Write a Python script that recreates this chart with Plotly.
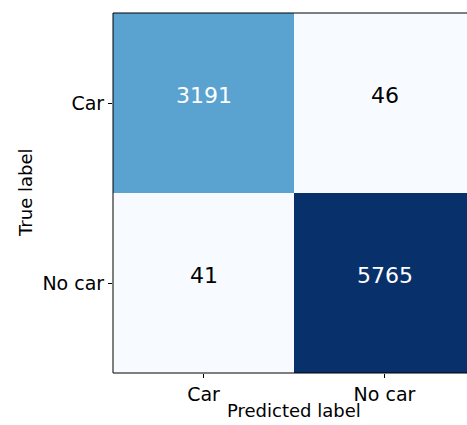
import plotly.graph_objects as go

# Confusion matrix for the car / no-car classifier
classes = ["Car", "No car"]
counts = [[3191, 46],
          [41, 5765]]

# matplotlib "Blues" colour map
blues = ["#f7fbff", "#deebf7", "#c6dbef", "#9ecae1", "#6baed6",
         "#4292c6", "#2171b5", "#08519c", "#08306b"]
scale = [[i / (len(blues) - 1), c] for i, c in enumerate(blues)]

W, H = 467, 425
L, T, B = 113, 13, 52
cell = 181  # pixel width of one cell
right_val = (W - L) / cell - 0.5  # right cell runs past the page edge

fig = go.Figure(go.Heatmap(
    z=counts, x=[0, 1], y=[0, 1],
    colorscale=scale, showscale=False, hoverinfo="skip",
))

thresh = max(max(r) for r in counts) / 2
for i, row in enumerate(counts):
    for j, v in enumerate(row):
        fig.add_annotation(
            x=j, y=i, text=str(v), showarrow=False, yshift=8,
            font=dict(family="DejaVu Sans", size=22,
                      color="white" if v > thresh else "black"),
        )

fig.add_annotation(text="Predicted label", xref="paper", yref="paper",
                   x=(cell * 2 / (W - L)) / 2, y=0, yshift=-37, showarrow=False,
                   font=dict(family="DejaVu Sans", size=18, color="black"),
                   yanchor="middle")
fig.add_annotation(text="True label", xref="paper", yref="paper",
                   x=0, xshift=-88, y=0.5, textangle=-90, showarrow=False,
                   font=dict(family="DejaVu Sans", size=18, color="black"),
                   xanchor="center")

fig.update_xaxes(range=[-0.5, right_val], tickvals=[0, 1], ticktext=classes,
                 ticks="outside", ticklen=4, tickcolor="black",
                 showline=False, showgrid=False, zeroline=False,
                 tickfont=dict(family="DejaVu Sans", size=19, color="black"))
fig.update_yaxes(range=[1.5, -0.5], tickvals=[0, 1], ticktext=classes,
                 ticks="outside", ticklen=4, tickcolor="black",
                 showline=False, mirror=False, showgrid=False, zeroline=False,
                 tickfont=dict(family="DejaVu Sans", size=19, color="black"))

# frame on the left, top and bottom; the right side is past the page edge
frame = dict(type="line", xref="paper", yref="paper",
             line=dict(color="black", width=1))
fig.add_shape(frame, x0=0, x1=1.02, y0=0, y1=0)
fig.add_shape(frame, x0=0, x1=1.02, y0=1, y1=1)
fig.add_shape(frame, x0=0, x1=0, y0=0, y1=1)

fig.update_layout(width=W, height=H, margin=dict(l=L, r=0, t=T, b=B),
                  paper_bgcolor="white", plot_bgcolor="white")
fig.write_html("out.html")
